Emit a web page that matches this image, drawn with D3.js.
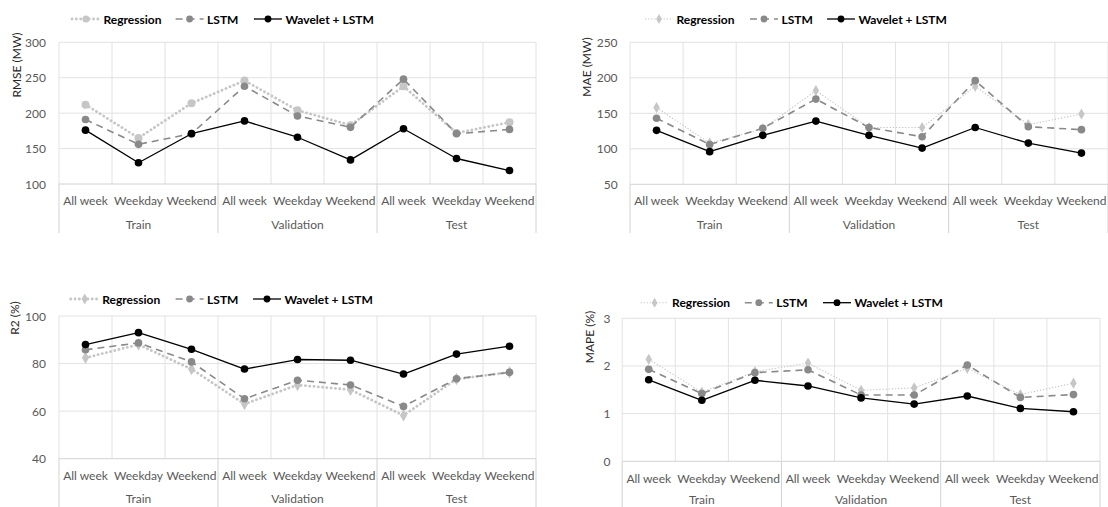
<!DOCTYPE html>
<html>
<head>
<meta charset="utf-8">
<script src="https://cdn.jsdelivr.net/npm/d3@7"></script>
<style>
  html, body { margin: 0; padding: 0; background: #fff; }
  svg { display: block; font-family: Lato, "Open Sans", sans-serif; }
</style>
</head>
<body>
<svg id="chart" width="1108" height="507"></svg>
<script>
// Forecast error metrics by data split and day type
const groups = ["Train", "Validation", "Test"];
const periods = ["All week", "Weekday", "Weekend"];
const seriesNames = ["Regression", "LSTM", "Wavelet + LSTM"];

const rmseRegression = [212, 165, 214, 246, 204, 183, 238, 172, 187];
const rmseLSTM       = [191, 156, 171, 238, 196, 180, 248, 171, 177];
const rmseWavelet    = [176, 130, 171, 189, 166, 134, 178, 136, 119];
const rmseTicks      = [100, 150, 200, 250, 300];

const maeRegression  = [158, 108, 128, 182, 130, 130, 188, 134, 149];
const maeLSTM        = [143, 106, 129, 170, 130, 117, 196, 131, 127];
const maeWavelet     = [126, 96, 119, 139, 119, 101, 130, 108, 94];
const maeTicks       = [50, 100, 150, 200, 250];

const r2Regression   = [82.4, 88, 77.7, 63, 71, 69, 58.2, 73.5, 76.3];
const r2LSTM         = [85.8, 88.7, 80.7, 65.2, 73, 71, 62, 73.6, 76.3];
const r2Wavelet      = [88, 93, 86, 77.7, 81.7, 81.4, 75.6, 84, 87.3];
const r2Ticks        = [40, 60, 80, 100];

const mapeRegression = [2.14, 1.45, 1.88, 2.06, 1.49, 1.54, 1.95, 1.40, 1.64];
const mapeLSTM       = [1.93, 1.42, 1.86, 1.92, 1.39, 1.39, 2.02, 1.34, 1.40];
const mapeWavelet    = [1.71, 1.28, 1.70, 1.58, 1.33, 1.20, 1.37, 1.11, 1.04];
const mapeTicks      = [0, 1, 2, 3];

// Panel layout
const panels = [
  { title: "RMSE (MW)", series: [rmseRegression, rmseLSTM, rmseWavelet], ticks: rmseTicks,
    left: 59, right: 536, top: 42.3, bottom: 184, catY: 200, grpY: 224, sepBottom: 233,
    tickX: 46, titleX: 16, titleY: 65, legendY: 19, legendX: [72, 175.6, 254],
    regThick: true, regShape: d3.symbolCircle },
  { title: "MAE (MW)", series: [maeRegression, maeLSTM, maeWavelet], ticks: maeTicks,
    left: 630, right: 1108, top: 42.3, bottom: 184.3, catY: 200, grpY: 224, sepBottom: 233,
    tickX: 617.6, titleX: 586, titleY: 67, legendY: 19, legendX: [645, 750, 827],
    regThick: false, regShape: d3.symbolDiamond },
  { title: "R2 (%)", series: [r2Regression, r2LSTM, r2Wavelet], ticks: r2Ticks,
    left: 59, right: 536, top: 316, bottom: 458.7, catY: 475, grpY: 498.5, sepBottom: 507,
    tickX: 46, titleX: 14, titleY: 318, legendY: 299, legendX: [70.7, 175.6, 253],
    regThick: true, regShape: d3.symbolDiamond },
  { title: "MAPE (%)", series: [mapeRegression, mapeLSTM, mapeWavelet], ticks: mapeTicks,
    left: 622.2, right: 1100, top: 318.3, bottom: 461.3, catY: 478, grpY: 499, sepBottom: 507,
    tickX: 610.5, titleX: 589, titleY: 337, legendY: 302.7, legendX: [640.6, 744.8, 823],
    regThick: false, regShape: d3.symbolDiamond }
];

const gridColor = "#e2e2e2";
const axisColor = "#d2d2d2";
const labelColor = "#595959";

const svg = d3.select("#chart");
const categories = groups.flatMap(g => periods.map(p => g + "|" + p));

function seriesStyle(i, p) {
  if (i === 0) {
    return p.regThick
      ? { color: "#c6c6c6", width: 2.8, dash: "0.1 4.2", cap: "round", shape: p.regShape, size: p.regShape === d3.symbolCircle ? 50 : 44 }
      : { color: "#c6c6c6", width: 1.1, dash: "1.3 1.8", cap: "butt", shape: p.regShape, size: 36 };
  }
  if (i === 1) return { color: "#898989", width: 1.6, dash: "7 5", cap: "butt", shape: d3.symbolCircle, size: 46 };
  return { color: "#000", width: 1.3, dash: null, cap: "butt", shape: d3.symbolCircle, size: 46 };
}

panels.forEach(p => {
  const g = svg.append("g");
  const x = d3.scaleBand().domain(categories).range([p.left, p.right]).padding(0);
  const y = d3.scaleLinear().domain(d3.extent(p.ticks)).range([p.bottom, p.top]);
  const bw = x.bandwidth();

  // horizontal gridlines
  g.append("g").selectAll("line").data(p.ticks.slice(1)).join("line")
    .attr("x1", p.left).attr("x2", p.right)
    .attr("y1", d => y(d)).attr("y2", d => y(d))
    .attr("stroke", gridColor).attr("stroke-width", 1);

  // vertical gridlines at category boundaries
  const bounds = categories.map(c => x(c)).concat([p.right]);
  g.append("g").selectAll("line").data(bounds).join("line")
    .attr("x1", d => d).attr("x2", d => d)
    .attr("y1", p.top).attr("y2", p.bottom)
    .attr("stroke", gridColor).attr("stroke-width", 1);

  // category axis line
  g.append("line")
    .attr("x1", p.left).attr("x2", p.right)
    .attr("y1", y(p.ticks[0])).attr("y2", y(p.ticks[0]))
    .attr("stroke", axisColor).attr("stroke-width", 1);

  // group separators running through the label rows
  const groupBounds = groups.map(gr => x(gr + "|" + periods[0])).concat([p.right]);
  g.append("g").selectAll("line").data(groupBounds).join("line")
    .attr("x1", d => d).attr("x2", d => d)
    .attr("y1", p.bottom).attr("y2", p.sepBottom)
    .attr("stroke", axisColor).attr("stroke-width", 1);

  // value axis tick labels
  g.append("g").selectAll("text").data(p.ticks).join("text")
    .attr("x", p.tickX).attr("y", d => y(d))
    .attr("text-anchor", "end").attr("dominant-baseline", "central")
    .attr("fill", labelColor).attr("font-size", 12)
    .text(d => d);

  // value axis title
  g.append("text")
    .attr("transform", `translate(${p.titleX},${p.titleY}) rotate(-90)`)
    .attr("text-anchor", "middle").attr("dominant-baseline", "central")
    .attr("fill", "#262626").attr("font-size", 12)
    .text(p.title);

  // category labels
  g.append("g").selectAll("text").data(categories).join("text")
    .attr("x", d => x(d) + bw / 2).attr("y", p.catY)
    .attr("text-anchor", "middle").attr("dominant-baseline", "central")
    .attr("fill", labelColor).attr("font-size", 12)
    .text(d => d.split("|")[1]);

  // group labels
  g.append("g").selectAll("text").data(groups).join("text")
    .attr("x", d => x(d + "|" + periods[1]) + bw / 2).attr("y", p.grpY)
    .attr("text-anchor", "middle").attr("dominant-baseline", "central")
    .attr("fill", labelColor).attr("font-size", 12)
    .text(d => d);

  // series lines and markers
  const line = d3.line().x((d, i) => x(categories[i]) + bw / 2).y(d => y(d));
  p.series.forEach((vals, si) => {
    const st = seriesStyle(si, p);
    g.append("path").datum(vals)
      .attr("d", line).attr("fill", "none")
      .attr("stroke", st.color).attr("stroke-width", st.width)
      .attr("stroke-dasharray", st.dash).attr("stroke-linecap", st.cap)
      .attr("stroke-linejoin", "round");
    g.append("g").selectAll("path").data(vals).join("path")
      .attr("transform", (d, i) => `translate(${x(categories[i]) + bw / 2},${y(d)})`)
      .attr("d", d3.symbol().type(st.shape).size(st.size))
      .attr("fill", st.color);
  });

  // legend
  seriesNames.forEach((name, si) => {
    const st = seriesStyle(si, p);
    const lx = p.legendX[si], len = 28;
    const lg = g.append("g");
    lg.append("line")
      .attr("x1", lx).attr("x2", lx + len)
      .attr("y1", p.legendY).attr("y2", p.legendY)
      .attr("stroke", st.color).attr("stroke-width", st.width)
      .attr("stroke-dasharray", st.dash).attr("stroke-linecap", st.cap);
    lg.append("path")
      .attr("transform", `translate(${lx + len / 2},${p.legendY})`)
      .attr("d", d3.symbol().type(st.shape).size(st.size * 0.8))
      .attr("fill", st.color);
    lg.append("text")
      .attr("x", lx + len + 3.5).attr("y", p.legendY)
      .attr("dominant-baseline", "central")
      .attr("font-size", 12).attr("font-weight", "bold").attr("fill", "#000")
      .text(name);
  });
});
</script>
</body>
</html>
